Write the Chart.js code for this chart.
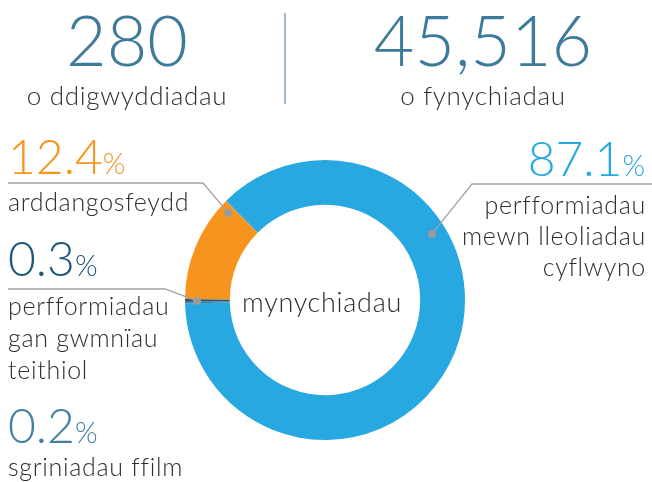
<!DOCTYPE html>
<html><head><meta charset="utf-8">
<script src="https://cdn.jsdelivr.net/npm/chart.js@4.4.1/dist/chart.umd.min.js"></script>
<style>
html,body{margin:0;padding:0;background:#fff;}
#wrap{position:relative;width:652px;height:482px;overflow:hidden;font-family:Lato,"Open Sans",sans-serif;font-weight:300;}
#c{position:absolute;left:0;top:0;}
.t{position:absolute;white-space:nowrap;line-height:1;}
.w{letter-spacing:0.7px;}
</style></head>
<body><div id="wrap"><canvas id="c" width="652" height="482"></canvas></div>
<script>
// ---- data ----
const categories = ['perfformiadau mewn lleoliadau cyflwyno', 'sgriniadau ffilm', 'perfformiadau gan gwmnïau teithiol', 'arddangosfeydd'];
const shares = [87.1, 0.2, 0.3, 12.4];
const labelLines = [
  ['perfformiadau', 'mewn lleoliadau', 'cyflwyno'],
  ['sgriniadau ffilm'],
  ['perfformiadau', 'gan gwmnïau', 'teithiol'],
  ['arddangosfeydd']
];
const headlineValues = ['280', '45,516'];
const headlineLabels = ['o ddigwyddiadau', 'o fynychiadau'];
const centerLabel = 'mynychiadau';

// ---- styles ----
const segmentColors = ['#27a8e0', '#3f7fa1', '#1c5878', '#f7941e'];
const textColor = '#2e2e2e';
const headColor = '#3d7a9b';

// label layout (positions only)
const labelLayout = [
  {x: 646, align: 'right', numBase: 177, textBase: 214, gap: 31, leader: {y: 184, from: 652, to: 472, angle: 58.3, r: 0.898}},
  {x: 8, align: 'left', numBase: 444, textBase: 476, gap: 32, leader: null},
  {x: 8, align: 'left', numBase: 277, textBase: 315, gap: 32, leader: {y: 289, from: 8, to: 165, angle: 269.6, r: 0.914}},
  {x: 8, align: 'left', numBase: 175, textBase: 211, gap: 32, leader: {y: 183, from: 8, to: 203, angle: 312, r: 0.93}}
];

const wrap = document.getElementById('wrap');
const ASC = 0.887;
function place(html, x, base, size, color, align, cls) {
  const d = document.createElement('div');
  d.className = 't' + (cls ? ' ' + cls : '');
  d.innerHTML = html;
  d.style.fontSize = size + 'px';
  d.style.color = color;
  d.style.top = (base - ASC * size) + 'px';
  if (align === 'center') { d.style.left = x + 'px'; d.style.transform = 'translateX(-50%)'; }
  else if (align === 'right') { d.style.right = (652 - x) + 'px'; }
  else { d.style.left = x + 'px'; }
  wrap.appendChild(d);
  return d;
}

// headline
const headX = [127, 483];
headlineValues.forEach((v, i) => {
  place(v, headX[i], 66, 70, headColor, 'center');
  place(headlineLabels[i], headX[i], 105, 26, textColor, 'center', 'w');
});
const vline = document.createElement('div');
vline.style.cssText = 'position:absolute;left:284px;top:13px;width:1.5px;height:91px;background:#a9b8c6;';
wrap.appendChild(vline);

// category labels
shares.forEach((s, i) => {
  const L = labelLayout[i];
  place(s.toFixed(1) + '<span style="font-size:29px">%</span>', L.x - (L.align === 'right' ? 1 : 0), L.numBase, 48, segmentColors[i], L.align);
  labelLines[i].forEach((line, j) => place(line, L.x, L.textBase + j * L.gap, 25, textColor, L.align, 'w'));
});

// centre
place(centerLabel, 322, 312, 27, textColor, 'center', 'w');

const leaderPlugin = {
  id: 'leaders',
  afterDatasetsDraw(chart) {
    const ctx = chart.ctx;
    const arc = chart.getDatasetMeta(0).data[0];
    const cx = arc.x, cy = arc.y, R = arc.outerRadius;
    ctx.save();
    labelLayout.forEach((L) => {
      if (!L.leader) return;
      const a = L.leader.angle * Math.PI / 180;
      const dx = cx + Math.sin(a) * R * L.leader.r;
      const dy = cy - Math.cos(a) * R * L.leader.r;
      ctx.strokeStyle = '#a3a3a3';
      ctx.lineWidth = 1.3;
      ctx.beginPath();
      ctx.moveTo(L.leader.from, L.leader.y);
      ctx.lineTo(L.leader.to, L.leader.y);
      ctx.lineTo(dx, dy);
      ctx.stroke();
      ctx.fillStyle = '#9b9b9b';
      ctx.beginPath();
      ctx.arc(dx, dy, 4, 0, Math.PI * 2);
      ctx.fill();
    });
    ctx.restore();
  }
};

new Chart(document.getElementById('c'), {
  type: 'doughnut',
  data: {
    labels: categories,
    datasets: [{data: shares, backgroundColor: segmentColors, borderWidth: 0}]
  },
  options: {
    responsive: false,
    animation: false,
    rotation: -45,
    cutout: '68%',
    layout: {padding: {left: 185, right: 187, top: 160, bottom: 42}},
    plugins: {legend: {display: false}, tooltip: {enabled: false}}
  },
  plugins: [leaderPlugin]
});
</script>
</body></html>
